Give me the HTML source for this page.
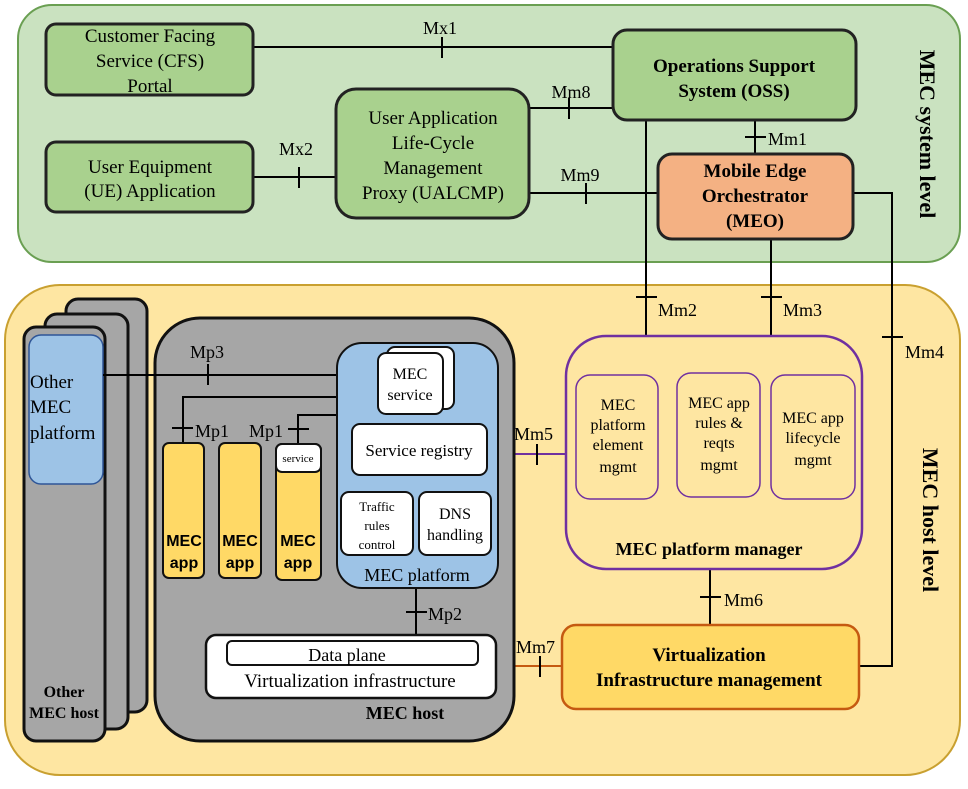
<!DOCTYPE html>
<html><head><meta charset="utf-8"><style>
html,body{margin:0;padding:0;background:#fff}
svg{display:block}
text{font-family:"Liberation Serif",serif;fill:#000}
.s{font-family:"Liberation Sans",sans-serif}
</style></head><body>
<svg width="968" height="789" viewBox="0 0 968 789" xmlns="http://www.w3.org/2000/svg">
<!-- regions -->
<rect x="18" y="5" width="942" height="257" rx="34" fill="#cae2c0" stroke="#6a9f52" stroke-width="2"/>
<rect x="5" y="285" width="955" height="490" rx="55" fill="#fee6a2" stroke="#c9a030" stroke-width="2"/>
<text x="925" y="134" font-size="22" font-weight="bold" text-anchor="middle" transform="rotate(90 925 134)" dominant-baseline="middle">MEC system level</text>
<text x="928" y="520" font-size="22" font-weight="bold" text-anchor="middle" transform="rotate(90 928 520)" dominant-baseline="middle">MEC host level</text>

<!-- lines top -->
<g stroke="#000" stroke-width="2" fill="none">
<line x1="253" y1="47" x2="613" y2="47"/><line x1="442" y1="37" x2="442" y2="58"/>
<line x1="253" y1="177" x2="336" y2="177"/><line x1="299" y1="167" x2="299" y2="188"/>
<line x1="529" y1="108" x2="613" y2="108"/><line x1="569" y1="98" x2="569" y2="119"/>
<line x1="529" y1="193" x2="658" y2="193"/><line x1="586" y1="183" x2="586" y2="204"/>
<line x1="755" y1="120" x2="755" y2="154"/><line x1="745" y1="137" x2="766" y2="137"/>
<line x1="646" y1="120" x2="646" y2="336"/><line x1="636" y1="297" x2="657" y2="297"/>
<line x1="771" y1="239" x2="771" y2="336"/><line x1="761" y1="297" x2="782" y2="297"/>
<polyline points="853,193 892,193 892,666 860,666"/><line x1="882" y1="337" x2="903" y2="337"/>
<line x1="710" y1="569" x2="710" y2="625"/><line x1="700" y1="597" x2="721" y2="597"/>
</g>
<g font-size="18">
<text x="440" y="34" text-anchor="middle">Mx1</text>
<text x="296" y="155" text-anchor="middle">Mx2</text>
<text x="571" y="98" text-anchor="middle">Mm8</text>
<text x="580" y="181" text-anchor="middle">Mm9</text>
<text x="768" y="145">Mm1</text>
<text x="658" y="316">Mm2</text>
<text x="783" y="316">Mm3</text>
<text x="905" y="358">Mm4</text>
<text x="514" y="440">Mm5</text>
<text x="724" y="606">Mm6</text>
<text x="516" y="653">Mm7</text>
</g>

<!-- system boxes -->
<g stroke="#222" stroke-width="3">
<rect x="46" y="24" width="207" height="71" rx="10" fill="#a9d18e"/>
<rect x="46" y="142" width="207" height="70" rx="10" fill="#a9d18e"/>
<rect x="336" y="89" width="193" height="129" rx="20" fill="#a9d18e"/>
<rect x="613" y="30" width="243" height="90" rx="14" fill="#a9d18e"/>
<rect x="658" y="154" width="195" height="85" rx="14" fill="#f4b183"/>
</g>
<g font-size="19" text-anchor="middle">
<text x="150" y="42">Customer Facing</text><text x="150" y="67">Service (CFS)</text><text x="150" y="92">Portal</text>
<text x="150" y="173">User Equipment</text><text x="150" y="197">(UE) Application</text>
<text x="433" y="124">User Application</text><text x="433" y="149">Life-Cycle</text><text x="433" y="174">Management</text><text x="433" y="199">Proxy (UALCMP)</text>
<text x="734" y="72" font-weight="bold">Operations Support</text><text x="734" y="97" font-weight="bold">System (OSS)</text>
<text x="755" y="177" font-weight="bold">Mobile Edge</text><text x="755" y="202" font-weight="bold">Orchestrator</text><text x="755" y="227" font-weight="bold">(MEO)</text>
</g>

<!-- platform manager -->
<line x1="497" y1="454" x2="566" y2="454" stroke="#7030a0" stroke-width="2"/>
<line x1="537" y1="444" x2="537" y2="465" stroke="#000" stroke-width="2"/>
<line x1="497" y1="666" x2="562" y2="666" stroke="#c55a11" stroke-width="2"/>
<line x1="540" y1="656" x2="540" y2="677" stroke="#000" stroke-width="2"/>
<rect x="566" y="336" width="296" height="233" rx="40" fill="#fee6a2" stroke="#7030a0" stroke-width="2.5"/>
<g fill="#fee6a2" stroke="#7030a0" stroke-width="1.5">
<rect x="576" y="375" width="82" height="124" rx="14"/>
<rect x="677" y="373" width="83" height="124" rx="14"/>
<rect x="771" y="375" width="84" height="124" rx="14"/>
</g>
<g font-size="16" text-anchor="middle">
<text x="618" y="410">MEC</text><text x="618" y="430">platform</text><text x="618" y="450">element</text><text x="618" y="472">mgmt</text>
<text x="719" y="408">MEC app</text><text x="719" y="428">rules &amp;</text><text x="719" y="448">reqts</text><text x="719" y="470">mgmt</text>
<text x="813" y="423">MEC app</text><text x="813" y="443">lifecycle</text><text x="813" y="465">mgmt</text>
<text x="709" y="555" font-size="18" font-weight="bold">MEC platform manager</text>
</g>
<rect x="562" y="625" width="297" height="84" rx="14" fill="#ffd966" stroke="#c55a11" stroke-width="2.5"/>
<text x="709" y="661" font-size="19" font-weight="bold" text-anchor="middle">Virtualization</text>
<text x="709" y="686" font-size="19" font-weight="bold" text-anchor="middle">Infrastructure management</text>

<!-- other hosts -->
<g stroke="#111" stroke-width="3" fill="#a6a6a6">
<rect x="66" y="299" width="81" height="413" rx="12"/>
<rect x="45" y="314" width="83" height="415" rx="12"/>
<rect x="24" y="327" width="81" height="414" rx="12"/>
</g>
<rect x="29" y="335" width="74" height="149" rx="12" fill="#9dc3e6" stroke="#2e5597" stroke-width="1.5"/>
<g font-size="19"><text x="30" y="388">Other</text><text x="30" y="413">MEC</text><text x="30" y="439">platform</text></g>
<text x="64" y="697" font-size="16" font-weight="bold" text-anchor="middle">Other</text>
<text x="64" y="718" font-size="16" font-weight="bold" text-anchor="middle">MEC host</text>

<!-- MEC host -->
<rect x="155" y="318" width="359" height="423" rx="45" fill="#a6a6a6" stroke="#111" stroke-width="3"/>
<g stroke="#000" stroke-width="2" fill="none">
<line x1="103" y1="375" x2="337" y2="375"/><line x1="208" y1="364" x2="208" y2="385"/>
<polyline points="183,443 183,397 337,397"/><line x1="172" y1="428" x2="193" y2="428"/>
<polyline points="298,444 298,415 337,415"/><line x1="288" y1="429" x2="309" y2="429"/>
<line x1="416" y1="588" x2="416" y2="635"/><line x1="406" y1="612" x2="427" y2="612"/>
</g>
<g font-size="18">
<text x="190" y="358">Mp3</text><text x="195" y="437">Mp1</text><text x="249" y="437">Mp1</text><text x="428" y="620">Mp2</text>
</g>
<rect x="337" y="343" width="161" height="245" rx="25" fill="#9dc3e6" stroke="#111" stroke-width="2"/>
<g fill="#fff" stroke="#111" stroke-width="2">
<rect x="387" y="347" width="67" height="62" rx="8"/>
<rect x="378" y="353" width="65" height="61" rx="8"/>
<rect x="352" y="424" width="135" height="51" rx="8"/>
<rect x="341" y="492" width="72" height="63" rx="8"/>
<rect x="419" y="492" width="72" height="63" rx="8"/>
</g>
<g text-anchor="middle">
<text x="410" y="379" font-size="16">MEC</text><text x="410" y="400" font-size="16">service</text>
<text x="419" y="456" font-size="17">Service registry</text>
<text x="377" y="511" font-size="13">Traffic</text><text x="377" y="530" font-size="13">rules</text><text x="377" y="549" font-size="13">control</text>
<text x="455" y="519" font-size="16">DNS</text><text x="455" y="540" font-size="16">handling</text>
<text x="417" y="581" font-size="18">MEC platform</text>
</g>
<g fill="#ffd966" stroke="#111" stroke-width="2">
<rect x="163" y="443" width="41" height="135" rx="6"/>
<rect x="219" y="443" width="42" height="135" rx="6"/>
<rect x="276" y="444" width="45" height="136" rx="6"/>
</g>
<rect x="276" y="444" width="45" height="28" rx="6" fill="#fff" stroke="#111" stroke-width="2"/>
<text x="298" y="462" font-size="11" text-anchor="middle">service</text>
<g class="s" font-size="16" font-weight="bold" text-anchor="middle">
<text class="s" x="184" y="546">MEC</text><text class="s" x="184" y="568">app</text>
<text class="s" x="240" y="546">MEC</text><text class="s" x="240" y="568">app</text>
<text class="s" x="298" y="546">MEC</text><text class="s" x="298" y="568">app</text>
</g>
<rect x="206" y="635" width="290" height="63" rx="10" fill="#fff" stroke="#111" stroke-width="2.5"/>
<rect x="227" y="641" width="251" height="24" rx="5" fill="#fff" stroke="#111" stroke-width="2"/>
<text x="347" y="661" font-size="18" text-anchor="middle">Data plane</text>
<text x="350" y="687" font-size="19" text-anchor="middle">Virtualization infrastructure</text>
<text x="405" y="719" font-size="18" font-weight="bold" text-anchor="middle">MEC host</text>
</svg>
</body></html>
